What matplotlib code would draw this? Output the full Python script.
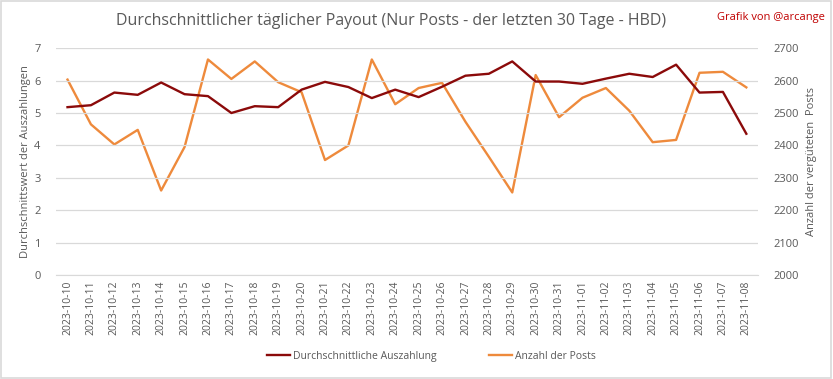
import matplotlib
matplotlib.use('Agg')
from matplotlib import pyplot as plt
from matplotlib.patches import Rectangle

# data
dates = [
	'2023-10-10', '2023-10-11', '2023-10-12', '2023-10-13', '2023-10-14',
	'2023-10-15', '2023-10-16', '2023-10-17', '2023-10-18', '2023-10-19',
	'2023-10-20', '2023-10-21', '2023-10-22', '2023-10-23', '2023-10-24',
	'2023-10-25', '2023-10-26', '2023-10-27', '2023-10-28', '2023-10-29',
	'2023-10-30', '2023-10-31', '2023-11-01', '2023-11-02', '2023-11-03',
	'2023-11-04', '2023-11-05', '2023-11-06', '2023-11-07', '2023-11-08',
]
avg_payout = [
	5.18, 5.24, 5.63, 5.56, 5.94, 5.58, 5.52, 5.00, 5.21, 5.18,
	5.72, 5.96, 5.80, 5.46, 5.72, 5.49, 5.81, 6.15, 6.21, 6.59,
	5.97, 5.97, 5.90, 6.06, 6.21, 6.11, 6.49, 5.63, 5.65, 4.36,
]
num_posts = [
	2603, 2465, 2403, 2448, 2261, 2395, 2665, 2605, 2659, 2595,
	2564, 2355, 2400, 2665, 2527, 2577, 2593, 2473, 2365, 2255,
	2617, 2487, 2547, 2577, 2507, 2410, 2417, 2624, 2627, 2579,
]

red = '#8B0A0A'
orange = '#EE8A3C'
grey = '#595959'

plt.rcParams['font.family'] = ['Open Sans', 'DejaVu Sans']

fig = plt.figure(figsize=(8.33, 3.79), dpi=100)
ax = fig.add_axes([0.067, 0.274, 0.843, 0.599])
ax2 = ax.twinx()

x = list(range(len(dates)))
l1, = ax.plot(x, avg_payout, color=red, lw=1.7, label='Durchschnittliche Auszahlung')
l2, = ax2.plot(x, num_posts, color=orange, lw=1.7, label='Anzahl der Posts')
ax2.set_zorder(ax.get_zorder() - 1)
ax.patch.set_visible(False)
ax.set_zorder(2)

ax.set_xlim(-0.5, len(dates) - 0.5)
ax.set_ylim(0, 7)
ax2.set_ylim(2000, 2700)
ax.set_yticks(range(0, 8))
ax2.set_yticks(range(2000, 2701, 100))
ax.set_xticks(x)
ax.set_xticklabels(dates, rotation=90, fontsize=7.5, color=grey)
ax.yaxis.grid(True, color='#D9D9D9', lw=0.9)
ax.set_axisbelow(True)

for a in (ax, ax2):
	for s in a.spines.values():
		s.set_visible(False)
	a.tick_params(length=0, labelsize=8, labelcolor=grey)
ax.spines['bottom'].set_visible(True)
ax.spines['bottom'].set_color('#D9D9D9')
ax.tick_params(axis='x', pad=4, labelsize=7.5)
ax.tick_params(axis='y', pad=11)
ax2.tick_params(axis='y', pad=11)

ax.set_ylabel('Durchschnittswert der Auszahlungen', fontsize=8, color=grey, labelpad=2)
ax2.set_ylabel('Anzahl der vergüteten  Posts', fontsize=8, color=grey, labelpad=5)

fig.text(0.47, 0.945, 'Durchschnittlicher täglicher Payout (Nur Posts - der letzten 30 Tage - HBD)',
	ha='center', va='center', fontsize=11.5, color=grey)
fig.text(0.99, 0.955, 'Grafik von @arcange', ha='right', va='center', fontsize=8, color='#C00000')

fig.legend(handles=[l1, l2], loc='center', bbox_to_anchor=(0.518, 0.06), ncol=2,
	frameon=False, fontsize=7.5, labelcolor=grey, handlelength=2.2, handletextpad=0.3,
	columnspacing=5)

fig.patches.append(Rectangle((0.001, 0.002), 0.997, 0.995, transform=fig.transFigure,
	fill=False, edgecolor='#D9D9D9', lw=1.2))

fig.savefig('out.png', dpi=100)
